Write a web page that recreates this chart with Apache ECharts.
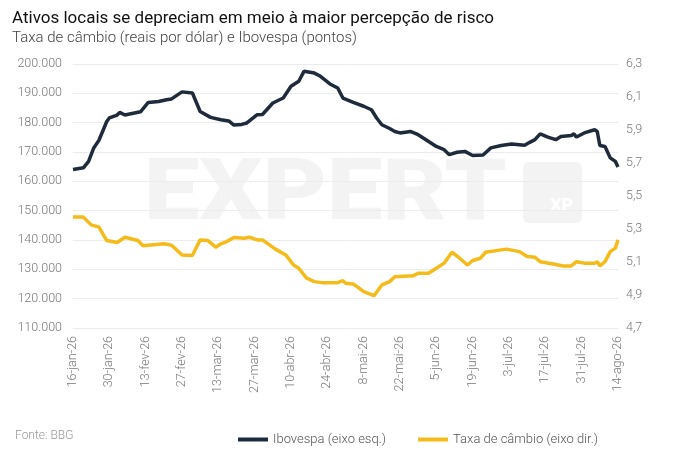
<!DOCTYPE html>
<html>
<head>
<meta charset="utf-8">
<script src="https://cdn.jsdelivr.net/npm/echarts@6/dist/echarts.min.js"></script>
<style>
  html, body { margin: 0; padding: 0; background: #fff; }
  #chart { width: 675px; height: 450px; }
</style>
</head>
<body>
<div id="chart"></div>
<script>
// Ibovespa (eixo esquerdo)
var ibovDates = ['2026-01-16','2026-01-20','2026-01-22','2026-01-24','2026-01-26','2026-01-29','2026-01-30',
    '2026-02-02','2026-02-03','2026-02-05','2026-02-11','2026-02-14','2026-02-18','2026-02-21','2026-02-23','2026-02-27',
    '2026-03-03','2026-03-06','2026-03-10','2026-03-14','2026-03-17','2026-03-19','2026-03-22','2026-03-24','2026-03-28','2026-03-30',
    '2026-04-03','2026-04-07','2026-04-10','2026-04-13','2026-04-15','2026-04-19','2026-04-21','2026-04-25','2026-04-28','2026-04-30',
    '2026-05-04','2026-05-08','2026-05-11','2026-05-13','2026-05-15','2026-05-18','2026-05-20','2026-05-22','2026-05-26','2026-05-29',
    '2026-06-01','2026-06-05','2026-06-08','2026-06-10','2026-06-13','2026-06-16','2026-06-19','2026-06-23','2026-06-26','2026-06-30',
    '2026-07-04','2026-07-09','2026-07-11','2026-07-13','2026-07-15','2026-07-18','2026-07-21','2026-07-23','2026-07-27','2026-07-28','2026-07-29',
    '2026-08-01','2026-08-05','2026-08-06','2026-08-07','2026-08-09','2026-08-11','2026-08-13','2026-08-14'];
var ibovValues = [164000,164600,166800,171400,174000,180400,181600,
    182600,183500,182600,183700,186900,187200,187800,188100,190500,
    190100,183800,181800,181000,180600,179200,179400,179900,182700,182800,
    186700,188400,192400,194100,197500,196900,196000,193200,191800,188400,
    186900,185600,184400,181600,179300,178000,177000,176500,177000,175900,
    174200,171900,170800,169100,169900,170200,168800,169000,171400,172200,
    172700,172300,173300,174200,176200,175100,174200,175300,175600,176200,175100,
    176500,177600,177000,172200,171900,168000,166800,164900];

// Taxa de câmbio (eixo direito)
var fxDates = ['2026-01-16','2026-01-20','2026-01-23','2026-01-26','2026-01-29',
    '2026-02-02','2026-02-05','2026-02-10','2026-02-12','2026-02-20','2026-02-23','2026-02-27',
    '2026-03-03','2026-03-06','2026-03-09','2026-03-12','2026-03-14','2026-03-16','2026-03-19','2026-03-23','2026-03-25','2026-03-28','2026-03-30',
    '2026-04-04','2026-04-08','2026-04-11','2026-04-13','2026-04-16','2026-04-19','2026-04-22','2026-04-28','2026-04-30',
    '2026-05-01','2026-05-04','2026-05-08','2026-05-12','2026-05-15','2026-05-18','2026-05-20','2026-05-27','2026-05-29',
    '2026-06-02','2026-06-05','2026-06-08','2026-06-11','2026-06-14','2026-06-17','2026-06-19','2026-06-22','2026-06-24','2026-06-28',
    '2026-07-02','2026-07-07','2026-07-10','2026-07-13','2026-07-15','2026-07-20','2026-07-24','2026-07-27','2026-07-29',
    '2026-08-01','2026-08-05','2026-08-06','2026-08-07','2026-08-09','2026-08-11','2026-08-13','2026-08-14'];
var fxValues = [5.372,5.372,5.325,5.311,5.230,
    5.218,5.250,5.230,5.198,5.210,5.202,5.143,
    5.139,5.234,5.230,5.190,5.210,5.222,5.248,5.244,5.250,5.234,5.234,
    5.178,5.143,5.082,5.062,5.002,4.981,4.975,4.975,4.987,
    4.971,4.967,4.920,4.896,4.961,4.981,5.011,5.016,5.032,
    5.032,5.062,5.093,5.159,5.123,5.082,5.109,5.123,5.159,5.169,
    5.178,5.163,5.133,5.129,5.102,5.088,5.076,5.076,5.102,
    5.093,5.093,5.102,5.076,5.102,5.163,5.184,5.234];

var meses = ['jan','fev','mar','abr','mai','jun','jul','ago','set','out','nov','dez'];
var DAY = 86400000;

function pares(datas, valores) {
    return datas.map(function (d, i) {
        var p = d.split('-');
        return [Date.UTC(+p[0], +p[1] - 1, +p[2]), valores[i]];
    });
}

var chart = echarts.init(document.getElementById('chart'));

var option = {
    backgroundColor: '#fff',
    animation: false,
    textStyle: { fontFamily: 'Roboto' },
    title: [{
        text: 'Ativos locais se depreciam em meio à maior percepção de risco',
        left: 7, top: 5,
        textStyle: { fontSize: 17, fontWeight: 'normal', color: '#111' }
    }, {
        text: 'Taxa de câmbio (reais por dólar) e Ibovespa (pontos)',
        left: 7, top: 26,
        textStyle: { fontSize: 15, fontWeight: 300, color: '#444' }
    }, {
        text: 'Fonte: BBG',
        left: 10, top: 425,
        textStyle: { fontSize: 12, fontWeight: 300, color: '#999' }
    }],
    // marca d'água
    graphic: [{
        type: 'text', x: 144, y: 154, scaleX: 1.15, z: -1,
        style: { text: 'EXPERT', fontSize: 86, fontWeight: 900, fontFamily: 'Roboto', fill: '#f3f3f3' }
    }, {
        type: 'rect', left: 523, top: 162, z: -1,
        shape: { width: 59, height: 61, r: 6 },
        style: { fill: '#f3f3f3' }
    }, {
        type: 'text', left: 550, top: 197, z: 0,
        style: { text: 'XP', fontSize: 18, fontWeight: 900, fontFamily: 'Roboto', fill: '#ffffff' }
    }],
    legend: {
        left: 233, top: 428,
        itemWidth: 30, itemHeight: 4, itemGap: 32,
        icon: 'rect',
        textStyle: { fontSize: 13, fontWeight: 300, color: '#555' },
        data: ['Ibovespa (eixo esq.)', 'Taxa de câmbio (eixo dir.)']
    },
    grid: { left: 73, right: 57, top: 64, bottom: 122 },
    xAxis: {
        type: 'value',
        min: Date.UTC(2026, 0, 16),
        max: Date.UTC(2026, 7, 14),
        interval: 14 * DAY,
        axisLine: { show: false },
        axisTick: { show: false },
        splitLine: { show: false },
        axisLabel: {
            rotate: 90, fontSize: 12.5, fontWeight: 300, color: '#777', margin: 8,
            showMinLabel: true, showMaxLabel: true,
            formatter: function (v) {
                var d = new Date(v);
                return d.getUTCDate() + '-' + meses[d.getUTCMonth()] + '-' + String(d.getUTCFullYear()).slice(2);
            }
        }
    },
    yAxis: [{
        type: 'value', min: 110000, max: 200000, interval: 10000,
        axisLine: { show: false }, axisTick: { show: false },
        splitLine: { lineStyle: { color: '#ececec', width: 1 } },
        axisLabel: {
            fontSize: 12.5, fontWeight: 300, color: '#777', margin: 11,
            formatter: function (v) { return v.toString().replace(/\B(?=(\d{3})+(?!\d))/g, '.'); }
        }
    }, {
        type: 'value', min: 4.7, max: 6.3, interval: 0.2,
        axisLine: { show: false }, axisTick: { show: false },
        splitLine: { show: false },
        axisLabel: {
            fontSize: 12.5, fontWeight: 300, color: '#777', margin: 8,
            formatter: function (v) { return v.toFixed(1).replace('.', ','); }
        }
    }],
    series: [{
        name: 'Ibovespa (eixo esq.)',
        type: 'line', yAxisIndex: 0,
        showSymbol: false,
        color: '#1e2b3c',
        lineStyle: { width: 3.5, color: '#1e2b3c' },
        data: pares(ibovDates, ibovValues)
    }, {
        name: 'Taxa de câmbio (eixo dir.)',
        type: 'line', yAxisIndex: 1,
        showSymbol: false,
        color: '#f5bb1a',
        lineStyle: { width: 3.5, color: '#f5bb1a' },
        data: pares(fxDates, fxValues)
    }]
};

chart.setOption(option);
</script>
</body>
</html>
